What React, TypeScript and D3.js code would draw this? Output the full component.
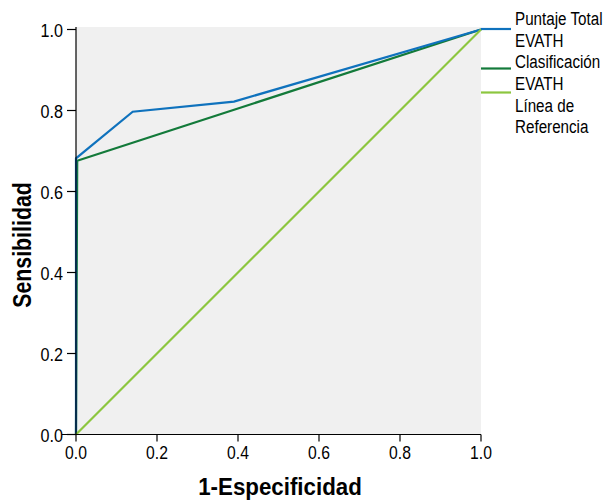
import React from "react";
import * as d3 from "d3";

const ticks = [0, 0.2, 0.4, 0.6, 0.8, 1.0];
const blueX = [0, 0, 0.14, 0.39, 1];
const blueY = [0, 0.682, 0.797, 0.822, 1];
const greenX = [0, 0.003, 1];
const greenY = [0, 0.676, 1];
const refX = [0, 1];
const refY = [0, 1];
const seriesNames = [["Puntaje Total", "EVATH"], ["Clasificación", "EVATH"], ["Línea de", "Referencia"]];
const colors = ["#0f72bd", "#137a3a", "#8cc63f"];

const FONT = "'Liberation Sans', Arial, sans-serif";

function T(props: { x: number; y: number; sx: number; size: number; anchor?: string; bold?: boolean; rot?: number; children: React.ReactNode }) {
  const { x, y, sx, size, anchor, bold, rot, children } = props;
  return (
    <g transform={`translate(${x},${y}) rotate(${rot || 0}) scale(${sx},1)`}>
      <text x={0} y={0} fontSize={size} textAnchor={anchor || "start"} fontWeight={bold ? "bold" : "normal"}>{children}</text>
    </g>
  );
}

export default function App() {
  const W = 606, H = 501;
  const x = d3.scaleLinear().domain([0, 1]).range([76, 481]);
  const y = d3.scaleLinear().domain([0, 1]).range([434.5, 29.5]);
  const line = d3.line<[number, number]>().x(d => x(d[0])).y(d => y(d[1]));
  const series = [
    { xs: greenX, ys: greenY, c: colors[1] },
    { xs: blueX, ys: blueY, c: colors[0] },
    { xs: refX, ys: refY, c: colors[2] },
  ];
  const legendY = [29, 68.5, 92.5];
  return (
    <svg width={W} height={H} style={{ position: "absolute", left: 0, top: 0 }} fontFamily={FONT}>
      <rect x={x(0)} y={27} width={x(1) - x(0)} height={y(0) - 27} fill="#f0f0f0" />
      {series.map((s, i) => (
        <path key={i} d={line(s.xs.map((v, j) => [v, s.ys[j]]) as [number, number][]) || ""} fill="none" stroke={s.c} strokeWidth={2.2} />
      ))}
      {/* y axis */}
      <line x1={x(0)} x2={x(0)} y1={27} y2={y(0)} stroke="#000" strokeWidth={1.2} />
      {ticks.map(t => (
        <g key={"y" + t}>
          <line x1={x(0) - 9} x2={x(0)} y1={y(t)} y2={y(t)} stroke="#000" strokeWidth={1.2} />
          <T x={63} y={y(t) + 7} sx={0.85} size={19} anchor="end">{t.toFixed(1)}</T>
        </g>
      ))}
      {/* x axis */}
      <line x1={62} x2={x(1)} y1={y(0)} y2={y(0)} stroke="#000" strokeWidth={1.2} />
      {ticks.map(t => (
        <g key={"x" + t}>
          <line x1={x(t)} x2={x(t)} y1={y(0)} y2={y(0) + 7} stroke="#000" strokeWidth={1.2} />
          <T x={x(t)} y={459} sx={0.85} size={18.5} anchor="middle">{t.toFixed(1)}</T>
        </g>
      ))}
      <T x={280} y={495} sx={0.93} size={24} anchor="middle" bold>1-Especificidad</T>
      <T x={31} y={245} sx={0.82} size={26} anchor="middle" bold rot={-90}>Sensibilidad</T>
      {/* legend */}
      {seriesNames.map((n, i) => (
        <g key={"l" + i}>
          <line x1={481} x2={511} y1={legendY[i]} y2={legendY[i]} stroke={colors[i]} strokeWidth={2.2} />
          <T x={515} y={25 + i * 43.3} sx={0.8} size={19}>{n[0]}</T>
          <T x={515} y={46.7 + i * 43.3} sx={0.8} size={19}>{n[1]}</T>
        </g>
      ))}
    </svg>
  );
}
